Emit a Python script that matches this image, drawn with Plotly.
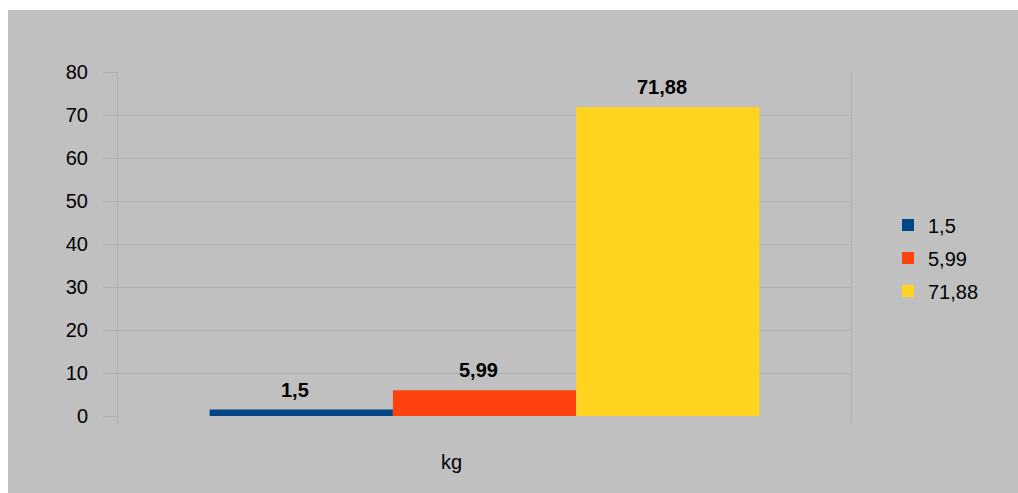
import plotly.graph_objects as go

categories = ["kg"]
series_names = ["1,5", "5,99", "71,88"]
series_values = [1.5, 5.99, 71.88]
colors = ["#004586", "#ff420e", "#ffd320"]
y_ticks = [0, 10, 20, 30, 40, 50, 60, 70, 80]

W, H = 1018, 493
L, R, T, B = 118, 167, 72, 77
pw, ph = W - L - R, H - T - B
BG = "#c0c0c0"
GRID = "#b0b0b0"
FONT = "Liberation Sans, Arial, sans-serif"
FS = 20

fig = go.Figure()
for i, (name, v, c) in enumerate(zip(series_names, series_values, colors)):
    fig.add_trace(go.Bar(
        x=categories, y=[v], name=name, marker=dict(color=c, line=dict(width=0)),
        legendgroup=name,
    ))

bar_px = pw * 0.75 / 3
ann = []
for i, v in enumerate(series_values):
    ann.append(dict(
        x=categories[0], y=v, xref="x", yref="y", text="<b>" + str(v).replace(".", ",") + "</b>",
        showarrow=False, xshift=(i - 1) * bar_px - 6, yshift=20, yanchor="middle",
        font=dict(size=FS, color="black", family=FONT),
    ))
ann.append(dict(x=(451 - L) / pw, y=-(462 - (T + ph)) / ph, xref="paper", yref="paper",
                text="kg", showarrow=False, xanchor="center", yanchor="middle",
                font=dict(size=FS, color="black", family=FONT)))

shapes = [
    dict(type="rect", xref="paper", yref="paper", x0=-L / pw - 0.01, x1=(W - L) / pw + 0.01,
         y0=(T + ph - 10) / ph, y1=(T + ph) / ph + 0.01, fillcolor="white", line=dict(width=0)),
    dict(type="rect", xref="paper", yref="paper", x0=-L / pw - 0.01, x1=(8 - L) / pw,
         y0=-B / ph - 0.01, y1=(T + ph) / ph + 0.01, fillcolor="white", line=dict(width=0)),
    dict(type="line", xref="paper", yref="paper", x0=0, x1=0, y0=0, y1=-9 / ph,
         line=dict(color=GRID, width=1)),
    dict(type="line", xref="paper", yref="paper", x0=1, x1=1, y0=0, y1=-9 / ph,
         line=dict(color=GRID, width=1)),
]

fig.update_layout(
    width=W, height=H,
    margin=dict(l=L, r=R, t=T, b=B),
    paper_bgcolor=BG, plot_bgcolor=BG,
    barmode="group", bargap=0.25, bargroupgap=0,
    font=dict(family=FONT, size=FS, color="black"),
    separators=", ",
    showlegend=True,
    legend=dict(x=(888 - L) / pw, xanchor="left", y=(T + ph - 258) / ph, yanchor="middle",
                bgcolor="rgba(0,0,0,0)", font=dict(size=FS, color="black", family=FONT),
                tracegroupgap=4, itemwidth=30, traceorder="grouped"),
    annotations=ann,
    shapes=shapes,
    xaxis=dict(showticklabels=False, showgrid=False, zeroline=False, showline=False,
               ticks="", fixedrange=True),
    yaxis=dict(range=[0, 80], tickvals=y_ticks, showgrid=True, gridcolor=GRID, gridwidth=1,
               zeroline=False, showline=True, linecolor=GRID, linewidth=1, mirror=True,
               ticks="outside", ticklen=14, tickcolor=GRID, ticklabelstandoff=11,
               tickfont=dict(size=FS, color="black", family=FONT)),
)

fig.write_html("out.html")
